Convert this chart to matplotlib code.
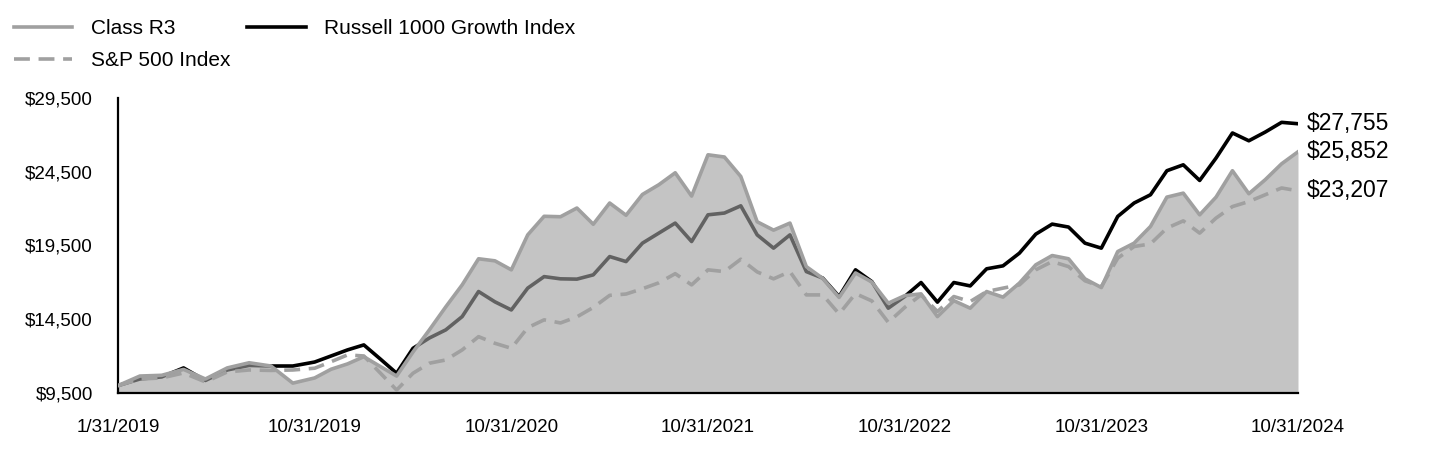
import matplotlib
matplotlib.use("Agg")
import matplotlib.pyplot as plt
import numpy as np

plt.rcParams['font.family'] = ['Liberation Sans', 'DejaVu Sans']

# month-end values from 1/31/2019 to 10/31/2024
class_r3 = [10000, 10650, 10700, 11100, 10450, 11200, 11550, 11330, 10170, 10520,
            11110, 11470, 11960, 11300, 10650, 12280, 13780, 15340, 16830, 18600,
            18460, 17850, 20220, 21480, 21450, 22040, 20940, 22380, 21550, 22960,
            23620, 24430, 22850, 25650, 25500, 24180, 21110, 20540, 21020, 18070,
            17270, 15980, 17640, 17020, 15590, 16100, 16220, 14680, 15760, 15250,
            16380, 16000, 16950, 18190, 18820, 18600, 17240, 16650, 19090, 19660,
            20790, 22780, 23050, 21580, 22780, 24570, 23010, 23960, 25040, 25852]
russell_1000g = [10000, 10450, 10590, 11200, 10350, 11060, 11370, 11330, 11330, 11600,
                 12010, 12420, 12760, 11810, 10840, 12530, 13230, 13780, 14680, 16380,
                 15680, 15130, 16610, 17390, 17240, 17220, 17510, 18750, 18410, 19660,
                 20340, 21020, 19770, 21580, 21700, 22190, 20220, 19320, 20220, 17730,
                 17290, 16040, 17850, 17050, 15250, 16040, 16990, 15660, 16990, 16760,
                 17920, 18120, 18980, 20270, 20950, 20750, 19660, 19320, 21470, 22380,
                 22940, 24570, 24970, 23910, 25430, 27130, 26600, 27190, 27850, 27755]
sp500 = [10000, 10450, 10520, 10860, 10250, 10930, 11060, 11030, 11060, 11180,
         11620, 12080, 12010, 10860, 9700, 10840, 11520, 11740, 12420, 13320,
         12870, 12530, 13930, 14460, 14250, 14660, 15300, 16120, 16210, 16570,
         16970, 17590, 16830, 17850, 17730, 18570, 17710, 17240, 17730, 16150,
         16150, 14860, 16240, 15740, 14290, 15300, 16150, 15020, 16040, 15700,
         16380, 16610, 16830, 17850, 18410, 18070, 17110, 16710, 18640, 19430,
         19610, 20680, 21170, 20340, 21360, 22140, 22480, 22940, 23400, 23207]

tick_labels = ['1/31/2019', '10/31/2019', '10/31/2020', '10/31/2021',
               '10/31/2022', '10/31/2023', '10/31/2024']
tick_months = [0, 9, 21, 33, 45, 57, 69]   # months after 1/31/2019
y_ticks = [9500, 14500, 19500, 24500, 29500]

# ticks are evenly spaced, months spread evenly between them
months = np.arange(len(class_r3))
x = np.interp(months, tick_months, np.arange(len(tick_labels)))

fig = plt.figure(figsize=(14.4, 4.68), dpi=100)
ax = fig.add_axes([118 / 1440, 75 / 468, 1180 / 1440, 295 / 468])

GRAY = '#a0a0a0'
LW = 2.6

ax.plot(x, russell_1000g, color='black', lw=LW, zorder=1,
        label='Russell 1000 Growth Index')
ax.fill_between(x, class_r3, y_ticks[0], color=GRAY, alpha=0.62, lw=0, zorder=2)
ax.plot(x, sp500, color=GRAY, lw=LW, dashes=(4.4, 2.4), zorder=3,
        label='S&P 500 Index')
ax.plot(x, class_r3, color=GRAY, lw=LW, zorder=4, label='Class R3')

ax.set_xlim(0, len(tick_labels) - 1)
ax.set_ylim(y_ticks[0], y_ticks[-1])
ax.set_xticks(np.arange(len(tick_labels)))
ax.set_xticklabels(tick_labels)
ax.set_yticks(y_ticks)
ax.set_yticklabels([f'${v:,}' for v in y_ticks])
ax.tick_params(length=0, labelsize=13.5)
ax.tick_params(axis='x', pad=19)
ax.tick_params(axis='y', pad=18)

for side in ['top', 'right']:
    ax.spines[side].set_visible(False)
for side in ['left', 'bottom']:
    ax.spines[side].set_linewidth(1.6)
    ax.spines[side].set_color('black')

# ending values next to the last point
for series in [russell_1000g, class_r3, sp500]:
    ax.annotate(f'${series[-1]:,}', xy=(x[-1], series[-1]), xytext=(6, 0),
                textcoords='offset points', va='center', ha='left',
                fontsize=16.5, annotation_clip=False)

handles, labels = ax.get_legend_handles_labels()
order = [2, 1, 0]
fig.legend([handles[i] for i in order], [labels[i] for i in order],
           loc='upper left', bbox_to_anchor=(14 / 1440, 1 - 19 / 468),
           ncol=2, frameon=False, fontsize=15, handlelength=2.8,
           handletextpad=0.9, columnspacing=0.8, labelspacing=0.62,
           borderpad=0, borderaxespad=0)

fig.savefig('out.png', dpi=100)
